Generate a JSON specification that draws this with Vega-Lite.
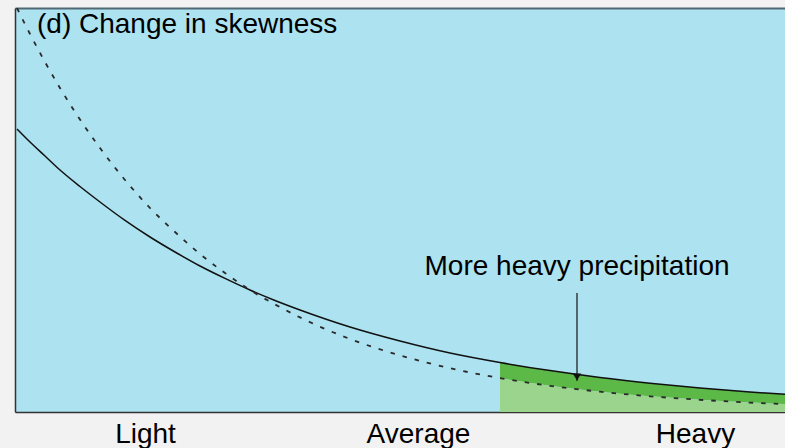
{
  "$schema": "https://vega.github.io/schema/vega-lite/v6.json",
  "width": 770,
  "height": 404,
  "autosize": "none",
  "padding": {"left": 15, "top": 8, "right": 0, "bottom": 36},
  "background": "#f2f2f2",
  "config": {"view": {"fill": "#ade2f0", "stroke": null}, "font": "Liberation Sans"},
  "datasets": {
    "curves": [
      {"x": 2, "solid": 283, "dashed": 404},
      {"x": 15, "solid": 270, "dashed": 378},
      {"x": 30, "solid": 256, "dashed": 350},
      {"x": 45, "solid": 242, "dashed": 324},
      {"x": 65, "solid": 225.5, "dashed": 292.5},
      {"x": 85, "solid": 210, "dashed": 264},
      {"x": 110, "solid": 191.6, "dashed": 232},
      {"x": 135, "solid": 175, "dashed": 204},
      {"x": 160, "solid": 160, "dashed": 180},
      {"x": 185, "solid": 146, "dashed": 158},
      {"x": 210, "solid": 133.6, "dashed": 139},
      {"x": 235, "solid": 122, "dashed": 122},
      {"x": 260, "solid": 111.5, "dashed": 107.6},
      {"x": 285, "solid": 102, "dashed": 94.6},
      {"x": 335, "solid": 85, "dashed": 73},
      {"x": 385, "solid": 71, "dashed": 56.6},
      {"x": 435, "solid": 59, "dashed": 43.8},
      {"x": 485, "solid": 49.5, "dashed": 33.9},
      {"x": 535, "solid": 41.4, "dashed": 26.2},
      {"x": 585, "solid": 34.5, "dashed": 20.3},
      {"x": 635, "solid": 28.8, "dashed": 15.7},
      {"x": 685, "solid": 24, "dashed": 12.2},
      {"x": 735, "solid": 20, "dashed": 9.4},
      {"x": 770, "solid": 17.7, "dashed": 7.9}
    ],
    "notes": [
      {"label": "More heavy precipitation", "x": 562, "y": 137, "arrow_top": 119, "arrow_tip": 31, "head": 35}
    ],
    "titles": [
      {"label": "(d) Change in skewness", "x": 22, "y": 379}
    ]
  },
  "resolve": {"axis": {"x": "independent"}},
  "layer": [
    {
      "data": {"name": "curves"},
      "transform": [{"filter": "datum.x >= 485"}],
      "mark": {"type": "area", "interpolate": "monotone", "fill": "#5cb947"},
      "encoding": {
        "x": {"field": "x", "type": "quantitative", "scale": {"domain": [0, 770], "nice": false, "zero": false}, "axis": null},
        "y": {"field": "solid", "type": "quantitative", "scale": {"domain": [0, 404], "nice": false}},
        "y2": {"field": "dashed"}
      }
    },
    {
      "data": {"name": "curves"},
      "transform": [{"filter": "datum.x >= 485"}],
      "mark": {"type": "area", "interpolate": "monotone", "fill": "#9bd48c"},
      "encoding": {
        "x": {"field": "x", "type": "quantitative", "axis": null},
        "y": {"field": "dashed", "type": "quantitative"},
        "y2": {"datum": 0}
      }
    },
    {
      "data": {"name": "curves"},
      "mark": {"type": "line", "interpolate": "monotone", "color": "#111", "strokeWidth": 1.5, "clip": true},
      "encoding": {
        "x": {
          "field": "x", "type": "quantitative",
          "axis": {
            "orient": "bottom", "values": [130, 403, 680],
            "labelExpr": "datum.value == 130 ? 'Light' : datum.value == 403 ? 'Average' : 'Heavy'",
            "labelFontSize": 28, "labelColor": "#000", "labelFont": "Liberation Sans",
            "labelBaseline": "alphabetic", "labelPadding": 30,
            "ticks": false, "tickSize": 0, "grid": false, "title": null,
            "domainColor": "#333", "domainWidth": 1.5
          }
        },
        "y": {
          "field": "solid", "type": "quantitative",
          "axis": {"labels": false, "ticks": false, "grid": false, "title": null, "domainColor": "#333", "domainWidth": 1.5}
        }
      }
    },
    {
      "data": {"name": "curves"},
      "mark": {"type": "line", "interpolate": "monotone", "color": "#2a2a2a", "strokeWidth": 1.8, "strokeDash": [4.5, 8], "clip": true},
      "encoding": {
        "x": {
          "field": "x", "type": "quantitative",
          "axis": {"orient": "top", "labels": false, "ticks": false, "grid": false, "title": null, "domainColor": "#4f6874", "domainWidth": 2}
        },
        "y": {"field": "dashed", "type": "quantitative"}
      }
    },
    {
      "data": {"name": "notes"},
      "mark": {"type": "rule", "color": "#222", "strokeWidth": 1.3},
      "encoding": {
        "x": {"field": "x", "type": "quantitative", "axis": null},
        "y": {"field": "arrow_top", "type": "quantitative"},
        "y2": {"field": "arrow_tip"}
      }
    },
    {
      "data": {"name": "notes"},
      "mark": {"type": "point", "shape": "triangle-down", "filled": true, "color": "#111", "size": 70, "opacity": 1},
      "encoding": {
        "x": {"field": "x", "type": "quantitative", "axis": null},
        "y": {"field": "head", "type": "quantitative"}
      }
    },
    {
      "data": {"name": "notes"},
      "mark": {"type": "text", "fontSize": 28, "align": "center", "baseline": "alphabetic", "color": "#000", "font": "Liberation Sans"},
      "encoding": {
        "x": {"field": "x", "type": "quantitative", "axis": null},
        "y": {"field": "y", "type": "quantitative"},
        "text": {"field": "label"}
      }
    },
    {
      "data": {"name": "titles"},
      "mark": {"type": "text", "fontSize": 28, "align": "left", "baseline": "alphabetic", "color": "#000", "font": "Liberation Sans"},
      "encoding": {
        "x": {"field": "x", "type": "quantitative", "axis": null},
        "y": {"field": "y", "type": "quantitative"},
        "text": {"field": "label"}
      }
    }
  ]
}
